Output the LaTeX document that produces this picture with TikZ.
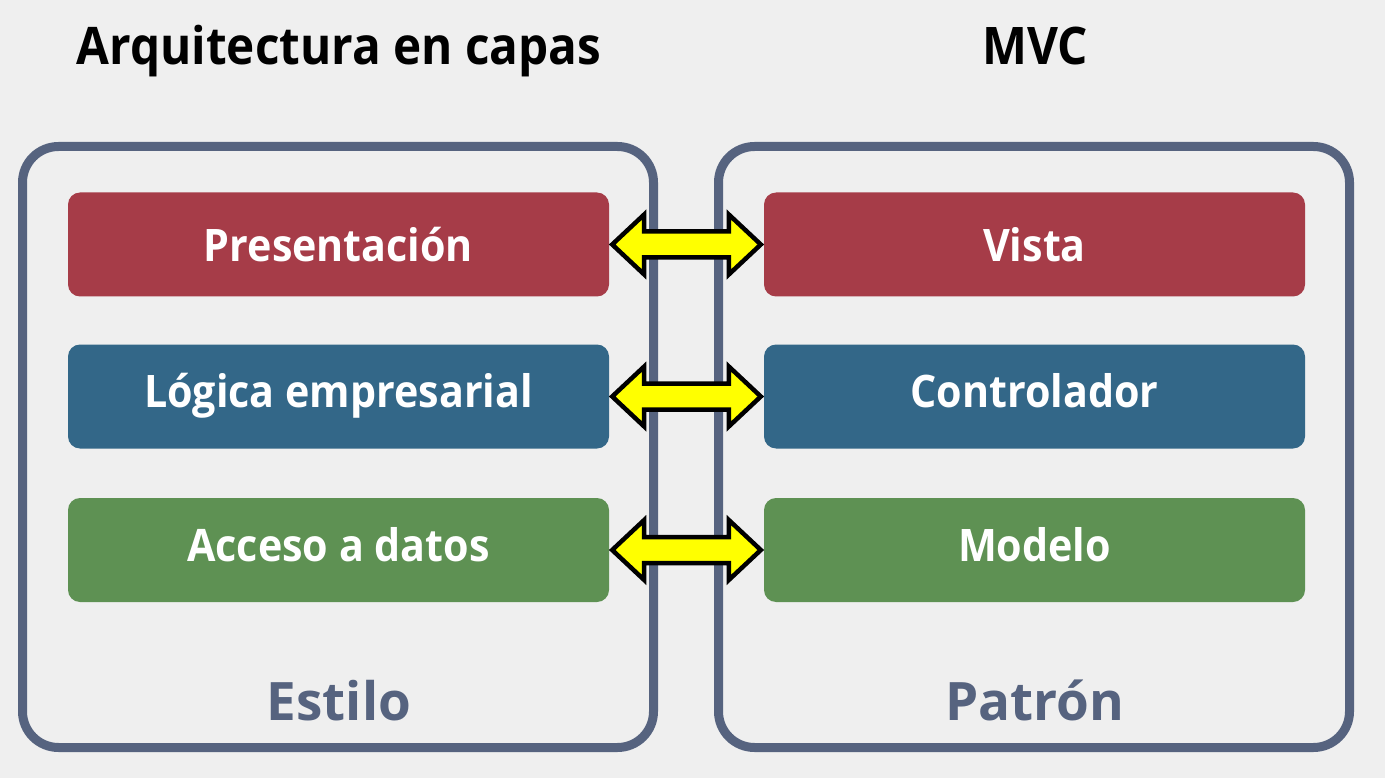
\documentclass[tikz,border=0pt]{standalone}
\usepackage{fontspec}
\setmainfont{Open Sans}
\newfontfamily\segoe[FakeStretch=0.92]{Open Sans Bold}
\newfontfamily\segoewide{Open Sans Bold}
\usetikzlibrary{calc}
\definecolor{bg}{HTML}{EFEFEF}
\definecolor{frame}{HTML}{56637F}
\definecolor{cred}{HTML}{A63C48}
\definecolor{cblue}{HTML}{336788}
\definecolor{cgreen}{HTML}{5E9153}
\definecolor{ayellow}{HTML}{FFFF00}
\tikzset{
  bar/.style={rounded corners=12pt, minimum width=541pt, minimum height=104pt, inner sep=0pt,
    text=white, font=\segoe\fontsize{44.8pt}{50pt}\selectfont},
  rowa/.style={text height=34pt, text depth=0pt},
  rowb/.style={text height=32pt, text depth=11pt},
  rowc/.style={text height=32pt, text depth=8.6pt},
  framebox/.style={draw=frame, line width=9pt, rounded corners=36pt},
  title/.style={anchor=base, font=\segoe\fontsize{51.8pt}{56pt}\selectfont, text=black, inner sep=0pt},
  caption/.style={anchor=base, font=\segoewide\fontsize{53pt}{58pt}\selectfont, text=frame, inner sep=0pt},
  dblarrow/.style={fill=ayellow, draw=black, line width=4.5pt, line join=miter}
}
\newcommand{\dblarr}[2]{%
  \path[dblarrow] ($(#1.east)+(3,0)$) -- ($(#1.east)+(35,-30)$) -- ($(#1.east)+(35,-13)$)
    -- ($(#2.west)+(-35,-13)$) -- ($(#2.west)+(-35,-30)$) -- ($(#2.west)+(-3,0)$)
    -- ($(#2.west)+(-35,30)$) -- ($(#2.west)+(-35,13)$)
    -- ($(#1.east)+(35,13)$) -- ($(#1.east)+(35,30)$) -- cycle;}
\begin{document}
\begin{tikzpicture}[x=1pt,y=-1pt]
\useasboundingbox (0,0) rectangle (1385,778);
\fill[bg] (0,0) rectangle (1385,778);
% frames
\draw[framebox] (22.5,146.5) rectangle (653.5,747.5);
\draw[framebox] (718.5,146.5) rectangle (1349.5,747.5);
% titles
\node[title] (t1) at (339,65) {Arquitectura en capas};
\node[title] (t2) at (1035,65) {MVC};
% bars
\node[bar, rowa, fill=cred] (p) at (338.5,244.5) {Presentación};
\node[bar, rowb, fill=cblue] (l) at (338.5,396.5) {Lógica empresarial};
\node[bar, rowc, fill=cgreen] (a) at (338.5,550) {Acceso a datos};
\node[bar, rowa, fill=cred] (v) at (1034.5,244.5) {Vista};
\node[bar, rowb, fill=cblue] (c) at (1034.5,396.5) {Controlador};
\node[bar, rowc, fill=cgreen] (m) at (1034.5,550) {Modelo};
% captions
\node[caption] (e) at (339,720) {Estilo};
\node[caption] (pt) at (1035,720) {Patrón};
% arrows
\dblarr{p}{v}
\dblarr{l}{c}
\dblarr{a}{m}
\end{tikzpicture}
\end{document}
